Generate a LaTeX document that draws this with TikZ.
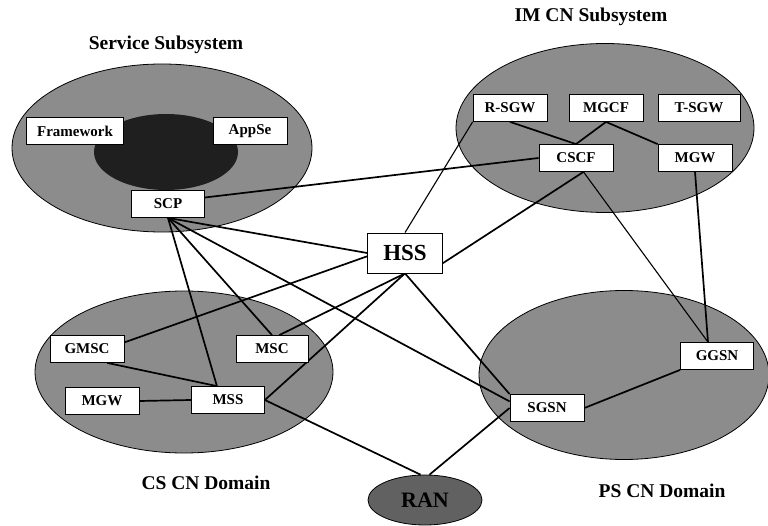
\documentclass[tikz,border=0pt]{standalone}
\usepackage{fontspec}
\setmainfont{Liberation Serif}
\usetikzlibrary{backgrounds,calc,positioning,shapes}

\begin{document}
\begin{tikzpicture}[x=1pt,y=-1pt,
  netarea/.style={ellipse,draw=black,line width=0.8pt,fill=black!45,inner sep=0pt},
  unit/.style={rectangle,draw=black,line width=0.8pt,fill=white,minimum width=74pt,
    minimum height=27pt,inner sep=0pt,font=\fontsize{15}{17}\selectfont\bfseries},
  title/.style={font=\fontsize{19.5}{22}\selectfont\bfseries},
  link/.style={line width=1.7pt},
  thinlink/.style={line width=1.1pt}]
  \useasboundingbox (0,0) rectangle (768,526);

  % area titles
  \node[title] (svctitle) at (166,45) {Service Subsystem};
  \node[title] (imstitle) at (591,17) {IM CN Subsystem};
  \node[title] (cstitle) at (206,483) {CS CN Domain};
  \node[title] (pstitle) at (662,491) {PS CN Domain};

  % service subsystem
  \node[unit,minimum width=97pt] (framework) at (75,131) {Framework};
  \node[unit] (appse) at (250,131) {AppSe};
  \node[unit,minimum width=73pt] (scp) at (168,204) {SCP};

  % IM CN subsystem
  \node[unit] (rsgw) at (510,108) {R-SGW};
  \node[unit] (mgcf) at (606,108) {MGCF};
  \node[unit,minimum width=82pt] (tsgw) at (699,108) {T-SGW};
  \node[unit] (cscf) at (576,158) {CSCF};
  \node[unit] (mgwims) at (695,158) {MGW};

  \node[unit,minimum width=75pt,minimum height=40pt,
    font=\fontsize{23}{26}\selectfont\bfseries] (hss) at (405,253) {HSS};

  % CS CN domain
  \node[unit] (gmsc) at (87,349) {GMSC};
  \node[unit,minimum width=72pt] (msc) at (272,349) {MSC};
  \node[unit] (mgwcs) at (102,401) {MGW};
  \node[unit,minimum width=73pt] (mss) at (228,400) {MSS};

  % PS CN domain
  \node[unit,minimum width=73pt] (ggsn) at (717,356) {GGSN};
  \node[unit] (sgsn) at (547,408) {SGSN};

  \begin{pgfonlayer}{background}
    \node[netarea,minimum width=300pt,minimum height=168pt] (svc) at (162,148) {};
    \node[ellipse,fill=black!88,minimum width=144pt,minimum height=76pt] (core) at (166,152) {};
    \node[netarea,minimum width=298pt,minimum height=169pt] (ims) at (605,128) {};
    \node[netarea,minimum width=298pt,minimum height=162pt] (cs) at (184,372) {};
    \node[netarea,minimum width=290pt,minimum height=169pt] (ps) at (624,375) {};
    \node[netarea,fill=black!62,minimum width=114pt,minimum height=50pt,
      font=\fontsize{22}{24}\selectfont\bfseries] (ran) at (425,500) {RAN};

    \draw[link] (scp.10) -- (cscf.west);
    \draw[link] (scp.south) -- (hss.west);
    \draw[link] (scp.south) -- (msc.north);
    \draw[link] (scp.south) -- ($(mss.north west)!0.35!(mss.north east)$);
    \draw[link] (scp.south) -- (sgsn.170);
    \draw[link] (gmsc.10) -- (hss.-175);
    \draw[link] ($(gmsc.south west)!0.77!(gmsc.south east)$) -- ($(mss.north west)!0.35!(mss.north east)$);
    \draw[link] ($(gmsc.south west)!0.6!(gmsc.south east)$) -- ($(gmsc.south west)!0.6!(gmsc.south east)$ |- mgwcs.north);
    \draw[link] (mgwcs.east) -- (mss.west);
    \draw[link] (mss.east) -- (hss.south);
    \draw[link] ($(msc.north west)!0.6!(msc.north east)$) -- (hss.south);
    \draw[link] (hss.south) -- (sgsn.north west);
    \draw[thinlink] (hss.north) -- (rsgw.south west);
    \draw[link] (hss.-15) -- ($(cscf.south west)!0.6!(cscf.south east)$);
    \draw[link] (rsgw.south) -- (cscf.north);
    \draw[link] (mgcf.south) -- (cscf.north);
    \draw[link] (mgcf.south) -- (mgwims.north west);
    \draw[thinlink] ($(cscf.south west)!0.6!(cscf.south east)$) -- ($(ggsn.north)+(-9,0)$);
    \draw[link] (mgwims.south) -- ($(ggsn.north)+(-9,0)$);
    \draw[link] (sgsn.east) -- (ggsn.south west);
    \draw[link] (mss.east) -- (ran.100);
    \draw[link] (ran.80) -- (sgsn.west);
  \end{pgfonlayer}
\end{tikzpicture}
\end{document}
